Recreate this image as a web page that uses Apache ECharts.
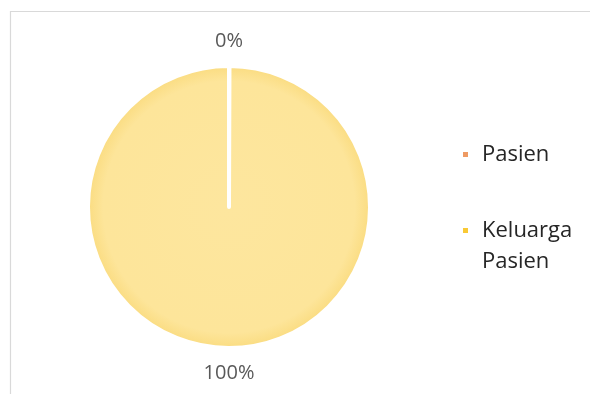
<!DOCTYPE html>
<html>
<head>
<meta charset="utf-8">
<style>
  html, body { margin: 0; padding: 0; background: #fff; }
  #chart { width: 590px; height: 394px; }
</style>
<script src="https://cdn.jsdelivr.net/npm/echarts@6/dist/echarts.min.js"></script>
</head>
<body>
<div id="chart"></div>
<script>
// Respondent groups and their counts
const categories = ['Pasien', 'Keluarga Pasien'];
const values = [0, 100];
const legendLines = [['Pasien'], ['Keluarga', 'Pasien']];

const sliceColors = ['#F4B183', '#FDE59B'];
const swatchColors = ['#EE9A63', '#F9C935'];
const pieCenter = [229, 207];
const LINE_H = 31;

const chart = echarts.init(document.getElementById('chart'), null, { renderer: 'canvas' });

const pieData = categories.map((name, i) => ({
  name,
  value: values[i],
  itemStyle: {
    color: i === 1
      ? {
          type: 'radial', x: 0.5, y: 0.5, r: 0.5,
          colorStops: [
            { offset: 0, color: '#FDE69E' },
            { offset: 0.88, color: '#FDE59A' },
            { offset: 1, color: '#FADB7E' }
          ]
        }
      : sliceColors[i]
  }
}));

// Multi-line legend entries keep their first line level with the swatch:
// an empty leading line balances the extra lines below it.
function legendFormatter(lines) {
  const body = lines.map(l => '{n|' + l + '}').join('\n');
  return lines.length > 1 ? '\n'.repeat(lines.length - 1) + body : body;
}

const legendText = {
  fontFamily: 'Open Sans',
  fontSize: 22,
  color: '#262626',
  lineHeight: LINE_H,
  rich: {
    n: {
      fontFamily: 'Open Sans',
      fontSize: 22,
      color: '#262626',
      lineHeight: LINE_H,
      padding: [0, 0, 0, 8]
    }
  }
};

function makeLegend(i, top) {
  return {
    orient: 'vertical',
    left: 461,
    top,
    padding: 0,
    itemWidth: 7,
    itemHeight: 7,
    icon: 'rect',
    selectedMode: false,
    data: [{ name: categories[i], itemStyle: { color: swatchColors[i] } }],
    formatter: () => legendFormatter(legendLines[i]),
    textStyle: legendText
  };
}

chart.setOption({
  animation: false,
  backgroundColor: '#ffffff',
  graphic: [{
    type: 'rect',
    shape: { x: 10.5, y: 11.5, width: 700, height: 500 },
    style: { fill: 'none', stroke: '#D9D9D9', lineWidth: 1.2 },
    silent: true,
    z: -1
  }],
  legend: [makeLegend(0, 139), makeLegend(1, 184)],
  series: [{
    type: 'pie',
    center: pieCenter,
    radius: [0, 141],
    startAngle: 90,
    clockwise: true,
    minAngle: 0.2,
    avoidLabelOverlap: false,
    stillShowZeroSum: true,
    itemStyle: { borderColor: '#ffffff', borderWidth: 4 },
    emphasis: { disabled: true },
    label: {
      show: true,
      position: 'outside',
      formatter: '{d}%',
      fontFamily: 'Open Sans',
      fontSize: 20,
      color: '#595959'
    },
    labelLine: { show: false, length: 25, length2: 0 },
    labelLayout: () => ({ x: pieCenter[0], align: 'center' }),
    data: pieData
  }]
});
</script>
</body>
</html>
